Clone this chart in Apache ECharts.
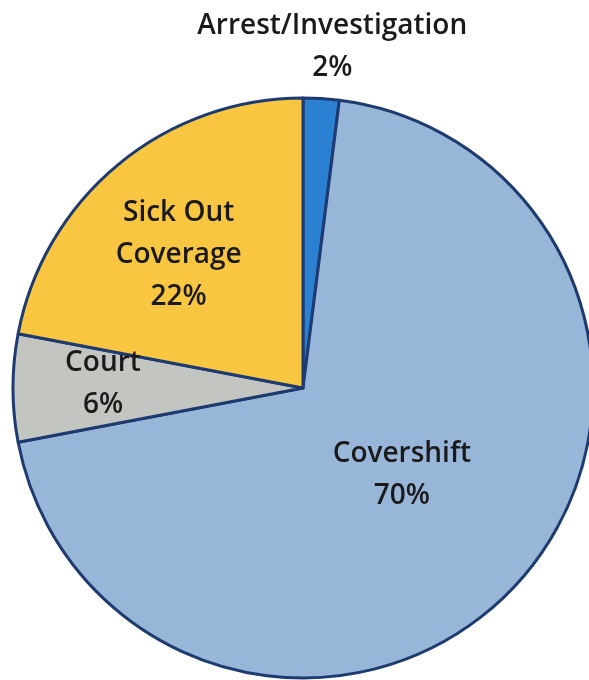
<!DOCTYPE html>
<html>
<head>
<meta charset="utf-8">
<script src="https://cdn.jsdelivr.net/npm/echarts@6/dist/echarts.min.js"></script>
<style>
  html, body { margin: 0; padding: 0; background: #ffffff; }
  #chart { width: 589px; height: 680px; }
</style>
</head>
<body>
<div id="chart"></div>
<script>
// Share of overtime by reason (percent)
const categories = ['Arrest/Investigation', 'Covershift', 'Court', 'Sick Out\nCoverage'];
const shares = [2, 70, 6, 22];
const colors = ['#2b80d2', '#98b6d8', '#c3c5c1', '#f8c640'];
// Label nudges from the default inside anchor
const labelShift = [[20, -193], [-9, -14], [-52, -4], [-30, -19]];

const chart = echarts.init(document.getElementById('chart'), null, { renderer: 'canvas' });

chart.setOption({
  backgroundColor: '#ffffff',
  animation: false,
  series: [{
    type: 'pie',
    center: [303, 388],
    radius: [0, 290],
    startAngle: 90,
    clockwise: true,
    avoidLabelOverlap: false,
    itemStyle: { borderColor: '#1d3b70', borderWidth: 3 },
    label: {
      show: true,
      position: 'inside',
      formatter: p => p.name + '\n' + p.value + '%',
      color: '#1a1a1a',
      fontFamily: 'Open Sans',
      fontWeight: 600,
      fontSize: 28,
      lineHeight: 42,
      align: 'center'
    },
    labelLine: { show: false },
    labelLayout: p => ({ dx: labelShift[p.dataIndex][0], dy: labelShift[p.dataIndex][1] }),
    emphasis: { disabled: true },
    data: categories.map((name, i) => ({
      name,
      value: shares[i],
      itemStyle: { color: colors[i] }
    }))
  }]
});
</script>
</body>
</html>
